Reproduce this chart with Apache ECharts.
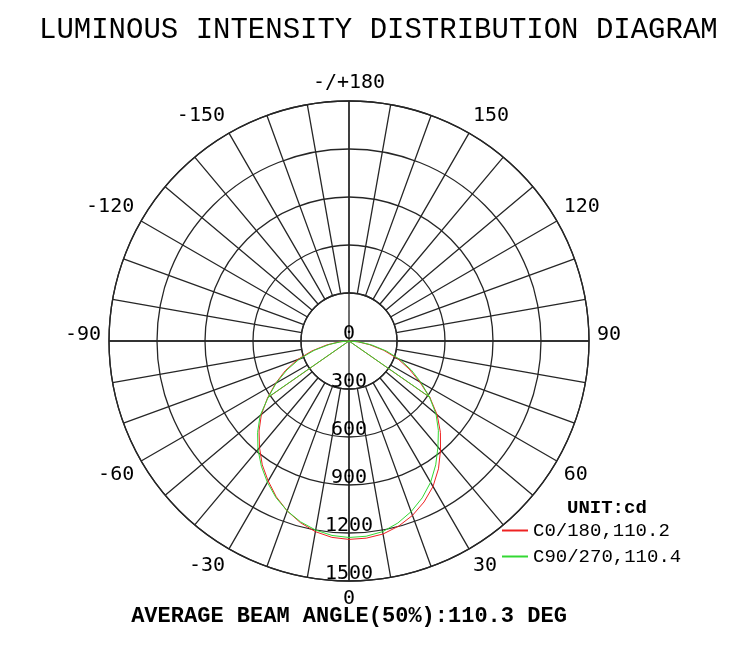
<!DOCTYPE html>
<html>
<head>
<meta charset="utf-8">
<script src="https://cdn.jsdelivr.net/npm/echarts@6/dist/echarts.min.js"></script>
<style>html,body{margin:0;padding:0;background:#fff}#c{width:750px;height:651px}</style>
</head>
<body>
<div id="c"></div>
<script>
// Angles (gamma, degrees): 0 = straight down
const angles = [-90,-85,-80,-75,-70,-65,-60,-55,-50,-45,-40,-35,-30,-25,-20,-15,-10,-5,0,5,10,15,20,25,30,35,40,45,50,55,60,65,70,75,80,85,90];
// C0/180 intensity (cd)
const c0Values = [0,60,140,240,345,440,530,622,715,795,870,945,1010,1075,1130,1175,1210,1232,1240,1237,1225,1198,1160,1110,1050,975,890,808,720,618,510,415,325,225,130,55,0];
// C90/270 intensity (cd)
const c90Values = [0,50,125,225,330,428,525,618,725,808,885,955,1020,1080,1130,1170,1200,1220,1228,1225,1210,1178,1135,1082,1020,945,865,790,710,615,520,430,340,242,145,62,0];
// Beam angle (50%) lines: half angles and intensity at the 50% points
const c0Beam = {half: 55.1, value: 620};
const c90Beam = {half: 55.2, value: 614};
const radialTicks = [0, 300, 600, 900, 1200, 1500];
const angleLabelStep = 30;
const seriesNames = ['C0/180,110.2', 'C90/270,110.4'];
const titleText = 'LUMINOUS INTENSITY DISTRIBUTION DIAGRAM';
const footerText = 'AVERAGE BEAM ANGLE(50%):110.3 DEG';
const unitText = 'UNIT:cd';

const toAxisAngle = a => (a < 0 ? a + 360 : a);
const curve = vals => angles.map((a, i) => [vals[i], toAxisAngle(a)]);
const beam = b => [[b.value, toAxisAngle(-b.half)], [0, 0], [b.value, b.half]];

const RED = '#ee2222', GREEN = '#33d833', GRID = '#262626';
const CX = 349, CY = 341, R = 240, R0 = 48;
const GW = 1.3;

const chart = echarts.init(document.getElementById('c'), null, {renderer: 'canvas'});
chart.setOption({
  animation: false,
  backgroundColor: '#fff',
  title: {
    text: titleText, left: 34, top: 11,
    textStyle: {fontFamily: 'Liberation Mono', fontSize: 29, fontWeight: 'normal', color: '#000'}
  },
  legend: {
    orient: 'vertical', left: 502, top: 521, itemGap: 7, padding: 0,
    itemWidth: 26, itemHeight: 2, icon: 'rect',
    data: [
      {name: seriesNames[0], itemStyle: {color: RED}},
      {name: seriesNames[1], itemStyle: {color: GREEN}}
    ],
    textStyle: {fontFamily: 'Liberation Mono', fontSize: 19, color: '#000'},
    selectedMode: false
  },
  graphic: [
    {type: 'text', left: 567, top: 499, style: {text: unitText, fontFamily: 'Liberation Mono', fontSize: 19, fontWeight: 'bold', fill: '#000'}},
    {type: 'text', x: CX, y: 616, style: {text: footerText, fontFamily: 'Liberation Mono', fontSize: 22, fontWeight: 'bold', fill: '#000', textAlign: 'center', textVerticalAlign: 'middle'}}
  ],
  polar: [
    {center: [CX, CY], radius: [R0, R]},
    {center: [CX, CY], radius: [0, R]}
  ],
  angleAxis: [
    {
      polarIndex: 0, type: 'value', min: 0, max: 360, interval: 10,
      startAngle: -90, clockwise: false,
      axisLine: {show: true, lineStyle: {color: GRID, width: GW}},
      axisTick: {show: false},
      splitLine: {show: true, lineStyle: {color: GRID, width: GW}},
      axisLabel: {
        show: true, margin: 8,
        fontFamily: 'DejaVu Sans Mono', fontSize: 20, color: '#000',
        rich: {h: {fontFamily: 'DejaVu Sans Mono', fontSize: 20, color: '#000', padding: [0, 0, 12, 0]}},
        formatter: v => {
          if (v % angleLabelStep !== 0 || v >= 360) return '';
          if (v === 180) return '-/+180';
          const t = v < 180 ? String(v) : String(v - 360);
          return (v === 90 || v === 270) ? '{h|' + t + '}' : t;
        }
      }
    },
    {
      polarIndex: 1, type: 'value', min: 0, max: 360, interval: 90,
      startAngle: -90, clockwise: false,
      axisLine: {show: false}, axisTick: {show: false}, axisLabel: {show: false},
      splitLine: {show: true, lineStyle: {color: GRID, width: GW}}
    }
  ],
  radiusAxis: [
    {
      polarIndex: 0, type: 'value', min: radialTicks[1], max: radialTicks[radialTicks.length - 1], interval: 300,
      axisLine: {show: false}, axisTick: {show: false}, axisLabel: {show: false},
      splitLine: {show: true, lineStyle: {color: GRID, width: GW}}
    },
    {
      polarIndex: 1, type: 'value', min: radialTicks[0], max: radialTicks[radialTicks.length - 1], interval: 300,
      axisLine: {show: false}, axisTick: {show: false}, splitLine: {show: false},
      axisLabel: {
        show: true, margin: 0, align: 'center', verticalAlign: 'bottom', lineHeight: 14,
        fontFamily: 'DejaVu Sans Mono', fontSize: 20, color: '#000',
        formatter: v => String(v)
      }
    }
  ],
  series: [
    {name: seriesNames[0], type: 'line', coordinateSystem: 'polar', polarIndex: 1, data: curve(c0Values), showSymbol: false, symbol: 'none', itemStyle: {color: RED}, lineStyle: {color: RED, width: 1}, clip: false, z: 3},
    {name: seriesNames[0], type: 'line', coordinateSystem: 'polar', polarIndex: 1, data: beam(c0Beam), showSymbol: false, symbol: 'none', itemStyle: {color: RED}, lineStyle: {color: RED, width: 1}, clip: false, z: 3},
    {name: seriesNames[1], type: 'line', coordinateSystem: 'polar', polarIndex: 1, data: curve(c90Values), showSymbol: false, symbol: 'none', itemStyle: {color: GREEN}, lineStyle: {color: GREEN, width: 1}, clip: false, z: 4},
    {name: seriesNames[1], type: 'line', coordinateSystem: 'polar', polarIndex: 1, data: beam(c90Beam), showSymbol: false, symbol: 'none', itemStyle: {color: GREEN}, lineStyle: {color: GREEN, width: 1}, clip: false, z: 4}
  ]
});
</script>
</body>
</html>
